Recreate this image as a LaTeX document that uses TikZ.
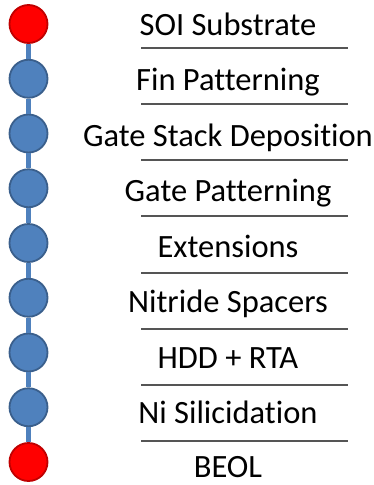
\documentclass[tikz,border=0pt]{standalone}
\usepackage{fontspec}
\setmainfont{Carlito}[Ligatures=NoCommon]
\usepackage{xcolor}
\usepackage{tikz}
\definecolor{stepblue}{HTML}{4F81BD}
\definecolor{stepblueline}{HTML}{3A5F8C}
\definecolor{stepred}{HTML}{FF0000}
\definecolor{stepredline}{HTML}{C00000}
\definecolor{sepgray}{HTML}{555555}

\begin{document}
\begin{tikzpicture}[x=1pt, y=-1pt,
  every node/.style={font=\fontsize{32.5}{36}\selectfont},
  dot/.style={circle, draw=stepblueline, fill=stepblue, line width=1.8pt, minimum size=38pt, inner sep=0pt},
  enddot/.style={dot, draw=stepredline, fill=stepred},
  steplabel/.style={anchor=base, inner sep=0pt},
  sep/.style={draw=sepgray, line width=1.2pt},
  link/.style={draw=stepblue, line width=4.5pt}]
\useasboundingbox (0,0) rectangle (373,485);
% timeline dots
\node[enddot] (dsoi) at (28.5,24) {};
\node[dot] (dfin) at (28.5,78.75) {};
\node[dot] (dgsd) at (28.5,133.5) {};
\node[dot] (dgpat) at (28.5,188.25) {};
\node[dot] (dext) at (28.5,243) {};
\node[dot] (dnsp) at (28.5,297.75) {};
\node[dot] (dhdd) at (28.5,352.5) {};
\node[dot] (dnisil) at (28.5,407.25) {};
\node[enddot] (dbeol) at (28.5,462) {};
% links between the dots
\draw[link] (dsoi)--(dfin); \draw[link] (dfin)--(dgsd); \draw[link] (dgsd)--(dgpat);
\draw[link] (dgpat)--(dext); \draw[link] (dext)--(dnsp); \draw[link] (dnsp)--(dhdd);
\draw[link] (dhdd)--(dnisil); \draw[link] (dnisil)--(dbeol);
% process steps
\node[steplabel] (soi) at (228,35) {SOI Substrate};
\node[steplabel] (fin) at (228,90.5) {Fin Patterning};
\node[steplabel] (gsd) at (228,146) {Gate Stack Deposition};
\node[steplabel] (gpat) at (228,201.5) {Gate Patterning};
\node[steplabel] (ext) at (228,257) {Extensions};
\node[steplabel] (nsp) at (228,312.5) {Nitride Spacers};
\node[steplabel] (hdd) at (228,368) {HDD + RTA};
\node[steplabel] (nisil) at (228,423.5) {Ni Silicidation};
\node[steplabel] (beol) at (228,477) {BEOL};
% separators
\draw[sep] (141,48)--(348,48); \draw[sep] (141,104)--(348,104);
\draw[sep] (141,160)--(348,160); \draw[sep] (141,216)--(348,216);
\draw[sep] (141,273)--(348,273); \draw[sep] (141,329)--(348,329);
\draw[sep] (141,385)--(348,385); \draw[sep] (141,441)--(348,441);
\end{tikzpicture}
\end{document}
